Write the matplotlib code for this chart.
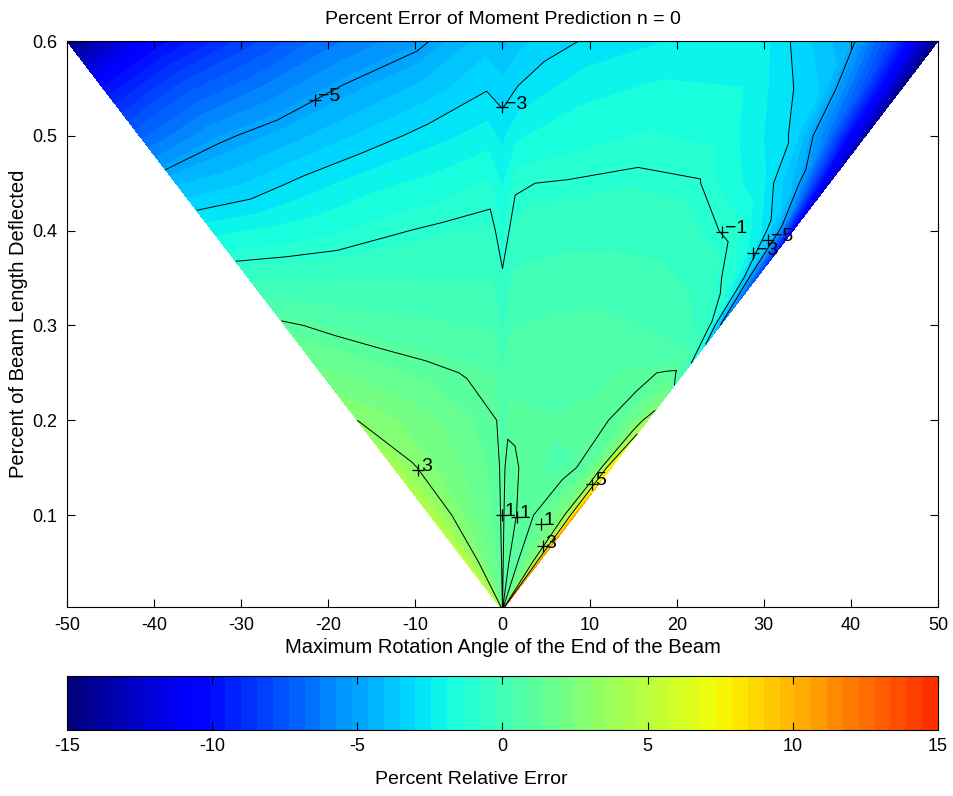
import numpy as np
import matplotlib
matplotlib.use("Agg")
import matplotlib.pyplot as plt
from matplotlib.colors import ListedColormap

plt.rcParams["font.family"] = ["Liberation Sans", "DejaVu Sans"]
plt.rcParams["axes.unicode_minus"] = False

# fraction of the half width of the triangle (-1 = left edge, 1 = right edge)
S_FRAC = [-1, -0.8, -0.6, -0.4, -0.2, -0.04, 0, 0.04, 0.1, 0.2, 0.4, 0.6, 0.8, 0.9, 0.95, 1]
# percent of beam length deflected, one row of errors per value
Y_ROWS = [0.6, 0.55, 0.5, 0.45, 0.4, 0.35, 0.3, 0.25, 0.2, 0.15, 0.1, 0.05, 0.003]
ERR = [
    [-14.8, -10.5, -8.3, -6.5, -5.3, -3.8, -4.3, -3.7, -3.3, -2.9, -2.4, -2.3, -4.6, -8.5, -11.5, -14.8],
    [-10.0, -7.6, -6.2, -4.9, -3.9, -3.05, -3.3, -2.95, -2.6, -2.1, -1.8, -1.9, -3.6, -7.5, -10.5, -14.5],
    [-7.0, -5.3, -4.4, -3.5, -2.7, -2.2, -2.6, -2.0, -1.8, -1.6, -1.3, -1.5, -3.1, -6.5, -10.0, -13.5],
    [-4.2, -3.6, -2.75, -2.1, -1.7, -1.3, -2.0, -1.1, -1.0, -0.95, -0.85, -0.95, -2.4, -4.4, -8.0, -12.5],
    [-2.1, -1.8, -1.5, -1.1, -0.85, -0.75, -1.4, -0.7, -0.6, -0.55, -0.5, -0.6, -1.15, -2.6, -4.6, -11.0],
    [-0.4, -0.35, -0.3, -0.3, -0.3, -0.3, -0.9, -0.2, -0.1, 0.0, 0.05, -0.1, -0.5, -1.3, -3.0, -8.0],
    [1.15, 0.8, 0.55, 0.4, 0.3, 0.2, -0.4, 0.25, 0.3, 0.35, 0.4, 0.3, 0.0, -0.4, -0.85, -5.0],
    [2.0, 1.75, 1.45, 1.2, 0.95, 0.8, 0.3, 0.75, 0.72, 0.7, 0.7, 0.8, 0.95, 1.05, 1.1, 0.0],
    [3.0, 2.6, 2.2, 1.8, 1.35, 1.0, 0.6, 0.9, 0.88, 0.85, 0.83, 0.85, 1.08, 1.8, 2.6, 3.8],
    [4.2, 3.05, 2.4, 2.0, 1.5, 1.1, 0.8, 1.15, 1.1, 0.9, 0.8, 0.8, 1.3, 2.7, 4.5, 8.0],
    [4.7, 3.4, 2.6, 2.0, 1.5, 1.1, 0.8, 1.2, 1.25, 0.98, 0.9, 1.6, 2.3, 3.6, 5.4, 10.5],
    [4.8, 3.8, 2.7, 2.0, 1.5, 1.1, 0.8, 1.2, 1.3, 0.9, 0.93, 1.7, 2.7, 4.0, 5.5, 11.0],
    [4.8, 3.8, 2.7, 2.0, 1.5, 1.1, 0.8, 1.2, 1.3, 0.9, 0.93, 1.7, 2.7, 4.0, 5.5, 11.0],
]
MAX_ANGLE = 50      # half width of the triangle at the top
MAX_DEFLECT = 0.6

LINE_LEVELS = [-5, -3, -1, 1, 3, 5]
# clabel points (angle, deflection, text)
LABELS = [
    (-21.5, 0.538, "\u22125"), (0.0, 0.53, "\u22123"), (25.2, 0.399, "\u22121"),
    (28.8, 0.376, "\u22123"), (30.5, 0.390, "\u22125"), (-9.7, 0.148, "3"),
    (-0.06, 0.100, "1"), (1.66, 0.098, "1"), (4.4, 0.091, "1"),
    (4.6, 0.067, "3"), (10.3, 0.133, "5"),
]


def main():
    s = np.array(S_FRAC)
    y = np.array(Y_ROWS)
    z = np.array(ERR)
    Y = np.repeat(y[:, None], len(s), axis=1)
    X = s[None, :] * Y * MAX_ANGLE / MAX_DEFLECT

    cmap = ListedColormap(plt.cm.jet(np.linspace(0, 1, 64))[:55])
    levels = np.linspace(-15, 15, 56)

    fig = plt.figure(figsize=(9.54, 7.96), dpi=100)
    ax = fig.add_axes([67 / 954, 1 - 607 / 796, 871 / 954, 566 / 796])
    cax = fig.add_axes([67 / 954, 1 - 730 / 796, 871 / 954, 54 / 796])

    cf = ax.contourf(X, Y, z, levels=levels, cmap=cmap)
    ax.contour(X, Y, z, levels=LINE_LEVELS, colors="k", linewidths=0.7,
               linestyles="solid")

    for lx, ly, txt in LABELS:
        ax.plot(lx, ly, "+", color="k", ms=9, mew=0.9)
        ax.annotate(txt, (lx, ly), xytext=(2, -1), textcoords="offset points",
                    ha="left", va="baseline", fontsize=14)

    ax.set_xlim(-50, 50)
    ax.set_ylim(0.003, 0.6)
    ax.set_xticks(range(-50, 51, 10))
    ax.set_yticks([0.1, 0.2, 0.3, 0.4, 0.5, 0.6])
    ax.tick_params(direction="in", top=True, right=True, length=6, labelsize=13, pad=7)
    ax.set_xlabel("Maximum Rotation Angle of the End of the Beam", fontsize=14.5, labelpad=3)
    ax.set_ylabel("Percent of Beam Length Deflected", fontsize=14.5, labelpad=3)
    ax.set_title("Percent Error of Moment Prediction n = 0", fontsize=14, pad=12)

    cb = fig.colorbar(cf, cax=cax, orientation="horizontal", ticks=range(-15, 16, 5))
    cb.ax.tick_params(direction="in", top=True, bottom=True, length=6, labelsize=13, pad=6)
    cb.set_label("Percent Relative Error", fontsize=14)
    cb.ax.xaxis.set_label_coords(0.464, -0.76)
    cb.outline.set_linewidth(0.8)

    fig.savefig("out.png", dpi=100)


if __name__ == "__main__":
    main()
